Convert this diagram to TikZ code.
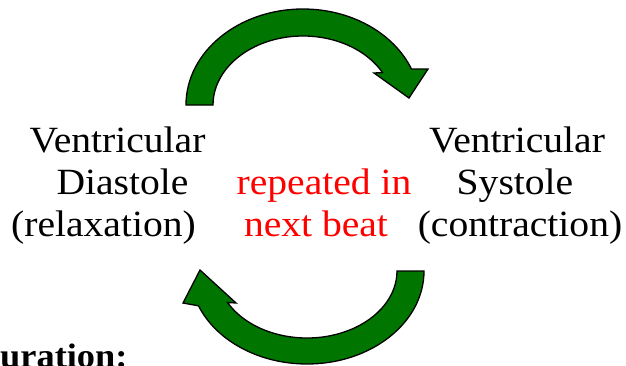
\documentclass[tikz,border=0pt]{standalone}
\usepackage{fontspec}
\setmainfont{Liberation Serif}[FakeStretch=1.07]
\usetikzlibrary{calc}
\definecolor{arrowgreen}{RGB}{0,118,0}
\definecolor{pured}{RGB}{255,0,0}
\tikzset{
  garrow/.style={draw=black, line width=1.3pt, fill=arrowgreen, line join=miter},
  phase/.style={anchor=base, inner sep=0pt, font=\fontsize{37}{43}\selectfont},
  note/.style={phase, text=pured},
}
\begin{document}
\begin{tikzpicture}[x=1pt,y=1pt]
  \useasboundingbox (0,0) rectangle (626,365);

  % centres of the two curved block arrows
  \coordinate (cT) at (303,260);
  \coordinate (cB) at (307,94);

  % upper arrow: diastole -> systole
  \draw[garrow] ($(cT)+(180:117pt and 96pt)$)
      arc[start angle=180, end angle=22, x radius=117pt, y radius=96pt]
      -- (428,296) -- (409,267) -- (374,292)
      -- ($(cT)+(28:90pt and 69pt)$)
      arc[start angle=28, end angle=180, x radius=90pt, y radius=69pt]
      -- cycle;

  % lower arrow: systole -> diastole
  \draw[garrow] ($(cB)+(0:117pt and 93pt)$)
      arc[start angle=0, end angle=-158, x radius=117pt, y radius=93pt]
      -- (183,62) -- (200,95) -- (236,62)
      -- ($(cB)+(-152:90pt and 67pt)$)
      arc[start angle=-152, end angle=0, x radius=90pt, y radius=67pt]
      -- cycle;

  % left phase
  \node[phase] (dia1) at (117.5,213) {Ventricular};
  \node[phase] (dia2) at (122.5,171) {Diastole};
  \node[phase] (dia3) at (103.5,129) {(relaxation)};

  % centre note
  \node[note] (rep1) at (324,171) {repeated in};
  \node[note] (rep2) at (316,129) {next beat};

  % right phase
  \node[phase] (sys1) at (517,213) {Ventricular};
  \node[phase] (sys2) at (515,171) {Systole};
  \node[phase] (sys3) at (520,129) {(contraction)};

  % heading running off the lower edge
  \node[anchor=base west, inner sep=0pt, font=\fontsize{34}{40}\selectfont\bfseries] (dur) at (0,-2) {uration:};
\end{tikzpicture}
\end{document}
